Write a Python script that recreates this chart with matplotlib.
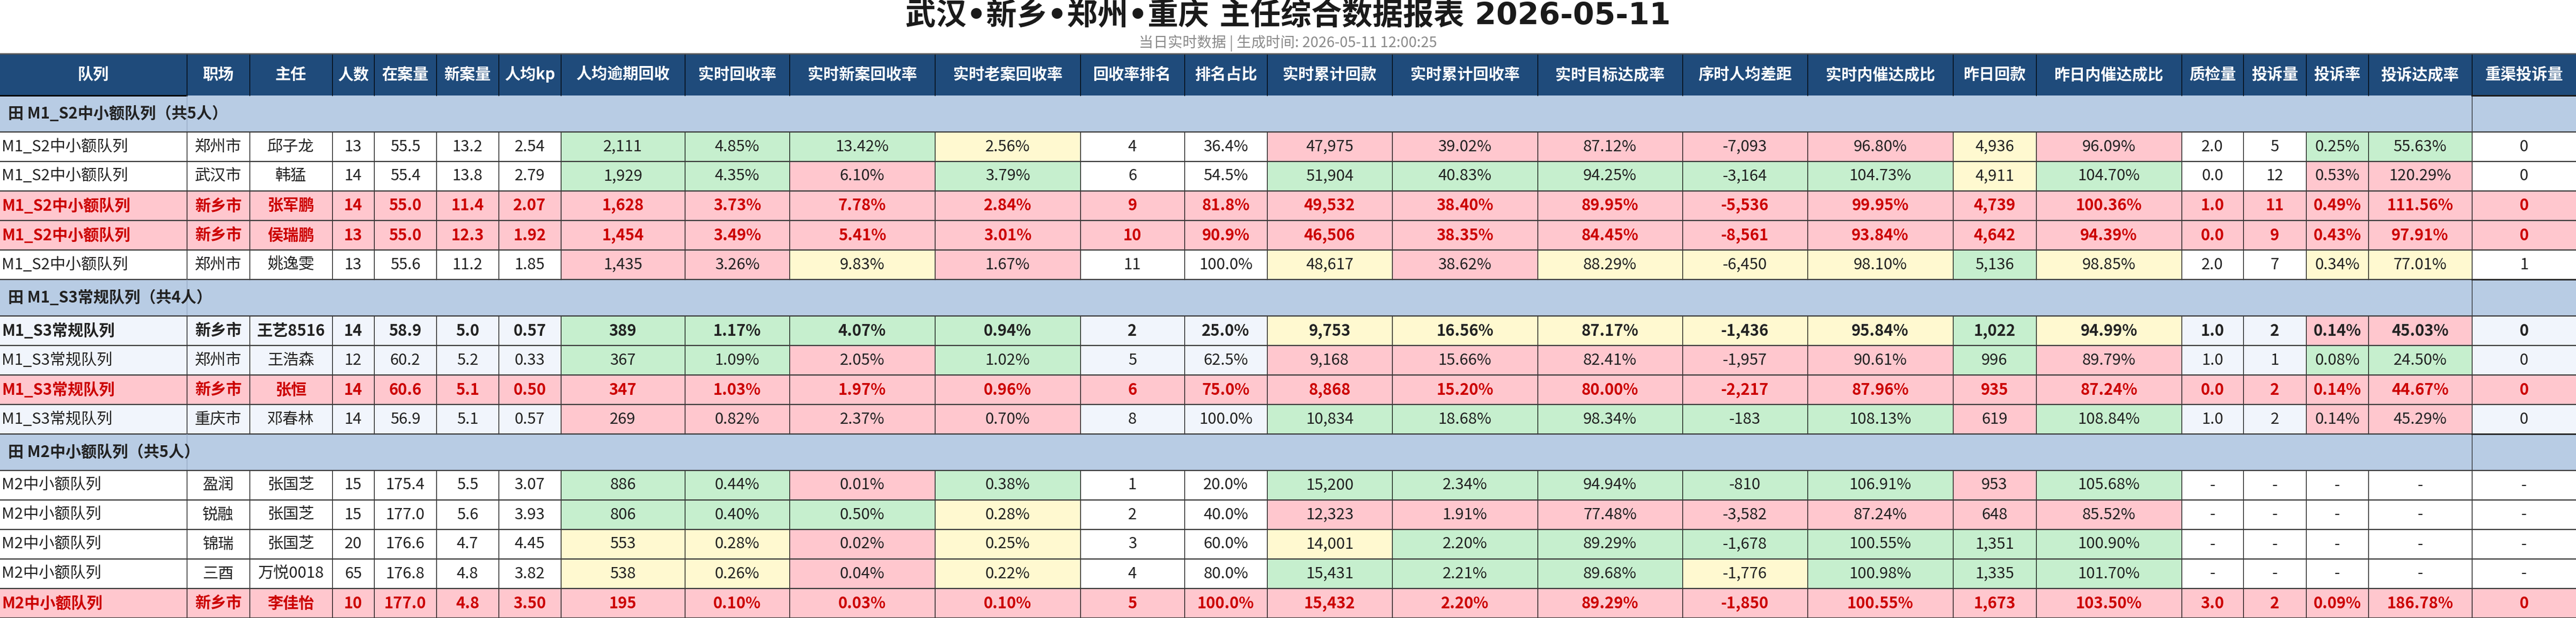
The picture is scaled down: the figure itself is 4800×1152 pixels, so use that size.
import matplotlib
matplotlib.use('Agg')
import matplotlib.pyplot as plt
from matplotlib.patches import Rectangle

plt.rcParams['font.family'] = ['Noto Sans CJK SC', 'DejaVu Sans']

# ---------------- data ----------------
title = "武汉•新乡•郑州•重庆 主任综合数据报表 2026-05-11"
subtitle = "当日实时数据 | 生成时间: 2026-05-11 12:00:25"

headers = ['队列', '职场', '主任', '人数', '在案量', '新案量', '人均kp', '人均逾期回收', '实时回收率',
           '实时新案回收率', '实时老案回收率', '回收率排名', '排名占比', '实时累计回款', '实时累计回收率',
           '实时目标达成率', '序时人均差距', '实时内催达成比', '昨日回款', '昨日内催达成比', '质检量',
           '投诉量', '投诉率', '投诉达成率', '重渠投诉量']

groups = ['田 M1_S2中小额队列（共5人）', '田 M1_S3常规队列（共4人）', '田 M2中小额队列（共5人）']
group_sizes = [5, 4, 5]

queue = ['M1_S2中小额队列'] * 5 + ['M1_S3常规队列'] * 4 + ['M2中小额队列'] * 5
site = ['郑州市', '武汉市', '新乡市', '新乡市', '郑州市', '新乡市', '郑州市', '新乡市', '重庆市',
        '盈润', '锐融', '锦瑞', '三酉', '新乡市']
director = ['邱子龙', '韩猛', '张军鹏', '侯瑞鹏', '姚逸雯', '王艺8516', '王浩森', '张恒', '邓春林',
            '张国芝', '张国芝', '张国芝', '万悦0018', '李佳怡']
headcount = [13, 14, 14, 13, 13, 14, 12, 14, 14, 15, 15, 20, 65, 10]
cases = [55.5, 55.4, 55.0, 55.0, 55.6, 58.9, 60.2, 60.6, 56.9, 175.4, 177.0, 176.6, 176.8, 177.0]
new_cases = [13.2, 13.8, 11.4, 12.3, 11.2, 5.0, 5.2, 5.1, 5.1, 5.5, 5.6, 4.7, 4.8, 4.8]
kp = [2.54, 2.79, 2.07, 1.92, 1.85, 0.57, 0.33, 0.50, 0.57, 3.07, 3.93, 4.45, 3.82, 3.50]
overdue = [2111, 1929, 1628, 1454, 1435, 389, 367, 347, 269, 886, 806, 553, 538, 195]
rate = [4.85, 4.35, 3.73, 3.49, 3.26, 1.17, 1.09, 1.03, 0.82, 0.44, 0.40, 0.28, 0.26, 0.10]
new_rate = [13.42, 6.10, 7.78, 5.41, 9.83, 4.07, 2.05, 1.97, 2.37, 0.01, 0.50, 0.02, 0.04, 0.03]
old_rate = [2.56, 3.79, 2.84, 3.01, 1.67, 0.94, 1.02, 0.96, 0.70, 0.38, 0.28, 0.25, 0.22, 0.10]
rank = [4, 6, 9, 10, 11, 2, 5, 6, 8, 1, 2, 3, 4, 5]
rank_pct = [36.4, 54.5, 81.8, 90.9, 100.0, 25.0, 62.5, 75.0, 100.0, 20.0, 40.0, 60.0, 80.0, 100.0]
cum_pay = [47975, 51904, 49532, 46506, 48617, 9753, 9168, 8868, 10834, 15200, 12323, 14001, 15431, 15432]
cum_rate = [39.02, 40.83, 38.40, 38.35, 38.62, 16.56, 15.66, 15.20, 18.68, 2.34, 1.91, 2.20, 2.21, 2.20]
target = [87.12, 94.25, 89.95, 84.45, 88.29, 87.17, 82.41, 80.00, 98.34, 94.94, 77.48, 89.29, 89.68, 89.29]
gap = [-7093, -3164, -5536, -8561, -6450, -1436, -1957, -2217, -183, -810, -3582, -1678, -1776, -1850]
inner = [96.80, 104.73, 99.95, 93.84, 98.10, 95.84, 90.61, 87.96, 108.13, 106.91, 87.24, 100.55, 100.98, 100.55]
yday = [4936, 4911, 4739, 4642, 5136, 1022, 996, 935, 619, 953, 648, 1351, 1335, 1673]
yday_inner = [96.09, 104.70, 100.36, 94.39, 98.85, 94.99, 89.79, 87.24, 108.84, 105.68, 85.52, 100.90, 101.70, 103.50]
qc = [2.0, 0.0, 1.0, 0.0, 2.0, 1.0, 1.0, 0.0, 1.0, None, None, None, None, 3.0]
complaints = [5, 12, 11, 9, 7, 2, 1, 2, 2, None, None, None, None, 2]
comp_rate = [0.25, 0.53, 0.49, 0.43, 0.34, 0.14, 0.08, 0.14, 0.14, None, None, None, None, 0.09]
comp_target = [55.63, 120.29, 111.56, 97.91, 77.01, 45.03, 24.50, 44.67, 45.29, None, None, None, None, 186.78]
key_comp = [0, 0, 0, 0, 1, 0, 0, 0, 0, None, None, None, None, 0]

# row style: n = normal, r = highlighted (red), b = bold
row_style = ['n', 'n', 'r', 'r', 'n', 'b', 'n', 'r', 'n', 'n', 'n', 'n', 'n', 'r']
# conditional colours for columns 7,8,9,10,13,14,15,16,17,18,19,22,23
cond_cols = [7, 8, 9, 10, 13, 14, 15, 16, 17, 18, 19, 22, 23]
cond_codes = ['GGGYPPPPPYPGG', 'GGPGGGGGGYGPP', 'PPPPPPPPPPPPP', 'PPPPPPPPPPPPP', 'PPYPYPYYYGYYY',
              'GGGGYYYYYGYPP', 'GGPGPPPPPGPGG', 'PPPPPPPPPPPPP', 'PPPPGGGGGPGPP',
              'GGPGGGGGGPG__', 'GGGYPPPPPPP__', 'YYPYYGGGGGG__', 'YYPYGGGYGGG__', 'PPPPPPPPPPPPP']


# ---------------- formatting ----------------
def f_int(v):
    return '-' if v is None else f"{v:,}"


def f1(v):
    return '-' if v is None else f"{v:.1f}"


def f2(v):
    return '-' if v is None else f"{v:.2f}"


def p1(v):
    return '-' if v is None else f"{v:.1f}%"


def p2(v):
    return '-' if v is None else f"{v:.2f}%"


columns = [
    queue, site, director, [f_int(v) for v in headcount], [f1(v) for v in cases],
    [f1(v) for v in new_cases], [f2(v) for v in kp], [f_int(v) for v in overdue],
    [p2(v) for v in rate], [p2(v) for v in new_rate], [p2(v) for v in old_rate],
    [f_int(v) for v in rank], [p1(v) for v in rank_pct], [f_int(v) for v in cum_pay],
    [p2(v) for v in cum_rate], [p2(v) for v in target], [f_int(v) for v in gap],
    [p2(v) for v in inner], [f_int(v) for v in yday], [p2(v) for v in yday_inner],
    [f1(v) for v in qc], [f_int(v) for v in complaints], [p2(v) for v in comp_rate],
    [p2(v) for v in comp_target], [f_int(v) for v in key_comp],
]

# ---------------- layout ----------------
W, H = 4800, 1152
col_w = [348, 117, 154, 78, 116, 116, 116, 231, 195, 271, 271, 194, 154, 233, 271, 270, 233, 271,
         155, 271, 115, 117, 116, 193, 194]
col_x = [0]
for w in col_w:
    col_x.append(col_x[-1] + w)

HEAD_TOP, HEAD_BOT = 100, 178
GROUP_H, ROW_H = 68, 55

C_HEAD = '#1F4B7B'
C_GROUP = '#B8CCE4'
C_ALT = '#F1F5FC'
C_MAP = {'G': '#C6EFCE', 'P': '#FFC7CE', 'Y': '#FFF9D0'}
C_RED_TXT = '#CC0000'
C_TXT = '#222222'
FS = 21

fig = plt.figure(figsize=(W / 100, H / 100), dpi=100)
ax = fig.add_axes([0, 0, 1, 1])
ax.set_xlim(0, W)
ax.set_ylim(H, 0)
ax.axis('off')

# title (DejaVu Sans first so the bullet stays narrow and digits bold, CJK falls back)
ax.text(W / 2, 31, title, ha='center', va='center', fontsize=41, fontweight='bold', color='#1a1a1a',
        family=['DejaVu Sans', 'Noto Sans CJK SC'])
ax.text(W / 2, 80, subtitle, ha='center', va='center', fontsize=19.5, color='#8a8a8a')

# header
ax.add_patch(Rectangle((0, HEAD_TOP), W, HEAD_BOT - HEAD_TOP, facecolor=C_HEAD, edgecolor='none'))
for j, h in enumerate(headers):
    cx = (col_x[j] + col_x[j + 1]) / 2
    ax.text(cx, (HEAD_TOP + HEAD_BOT) / 2, h, ha='center', va='center', fontsize=FS,
            fontweight='bold', color='white')
for x in col_x[1:-1]:
    ax.plot([x, x], [HEAD_TOP, HEAD_BOT], color='black', lw=0.9)
ax.plot([0, W], [HEAD_TOP, HEAD_TOP], color='#555555', lw=1.8)
ax.plot([0, col_x[1]], [HEAD_BOT, HEAD_BOT], color='black', lw=2)
ax.plot([col_x[-2], W], [HEAD_BOT, HEAD_BOT], color='black', lw=2)

# body
y = HEAD_BOT
ri = 0
for g, (gname, gsize) in enumerate(zip(groups, group_sizes)):
    ax.add_patch(Rectangle((0, y), W, GROUP_H, facecolor=C_GROUP, edgecolor='none'))
    ax.text(15, y + GROUP_H / 2, gname, ha='left', va='center', fontsize=FS, fontweight='bold',
            color=C_TXT)
    ax.plot([col_x[1], col_x[1]], [y, y + GROUP_H], color='#93A6C2', lw=0.9)
    ax.plot([col_x[-2], col_x[-2]], [y, y + GROUP_H], color='#222222', lw=0.9)
    ax.plot([col_x[-2], W], [y, y], color='#222222', lw=1.8)
    y += GROUP_H
    for k in range(gsize):
        style = row_style[ri]
        base = C_MAP['P'] if style == 'r' else (C_ALT if g == 1 else 'white')
        for j in range(len(headers)):
            fc = base
            if j in cond_cols and style != 'r':
                code = cond_codes[ri][cond_cols.index(j)]
                if code in C_MAP:
                    fc = C_MAP[code]
            ax.add_patch(Rectangle((col_x[j], y), col_w[j], ROW_H, facecolor=fc, edgecolor='none'))
            txt = columns[j][ri]
            color = C_RED_TXT if style == 'r' else C_TXT
            weight = 'bold' if style in ('r', 'b') else 'normal'
            if j == 0:
                ax.text(col_x[j] + 3, y + ROW_H / 2, txt, ha='left', va='center', fontsize=FS,
                        color=color, fontweight=weight)
            else:
                ax.text((col_x[j] + col_x[j + 1]) / 2, y + ROW_H / 2, txt, ha='center',
                        va='center', fontsize=FS, color=color, fontweight=weight)
        for x in col_x[1:-1]:
            ax.plot([x, x], [y, y + ROW_H], color='black', lw=0.9)
        ax.plot([0, W], [y, y], color='#3a3a3a', lw=1.6)
        y += ROW_H
        ri += 1
    ax.plot([0, W], [y, y], color='#3a3a3a', lw=1.6)

fig.savefig('out.png', dpi=100)
